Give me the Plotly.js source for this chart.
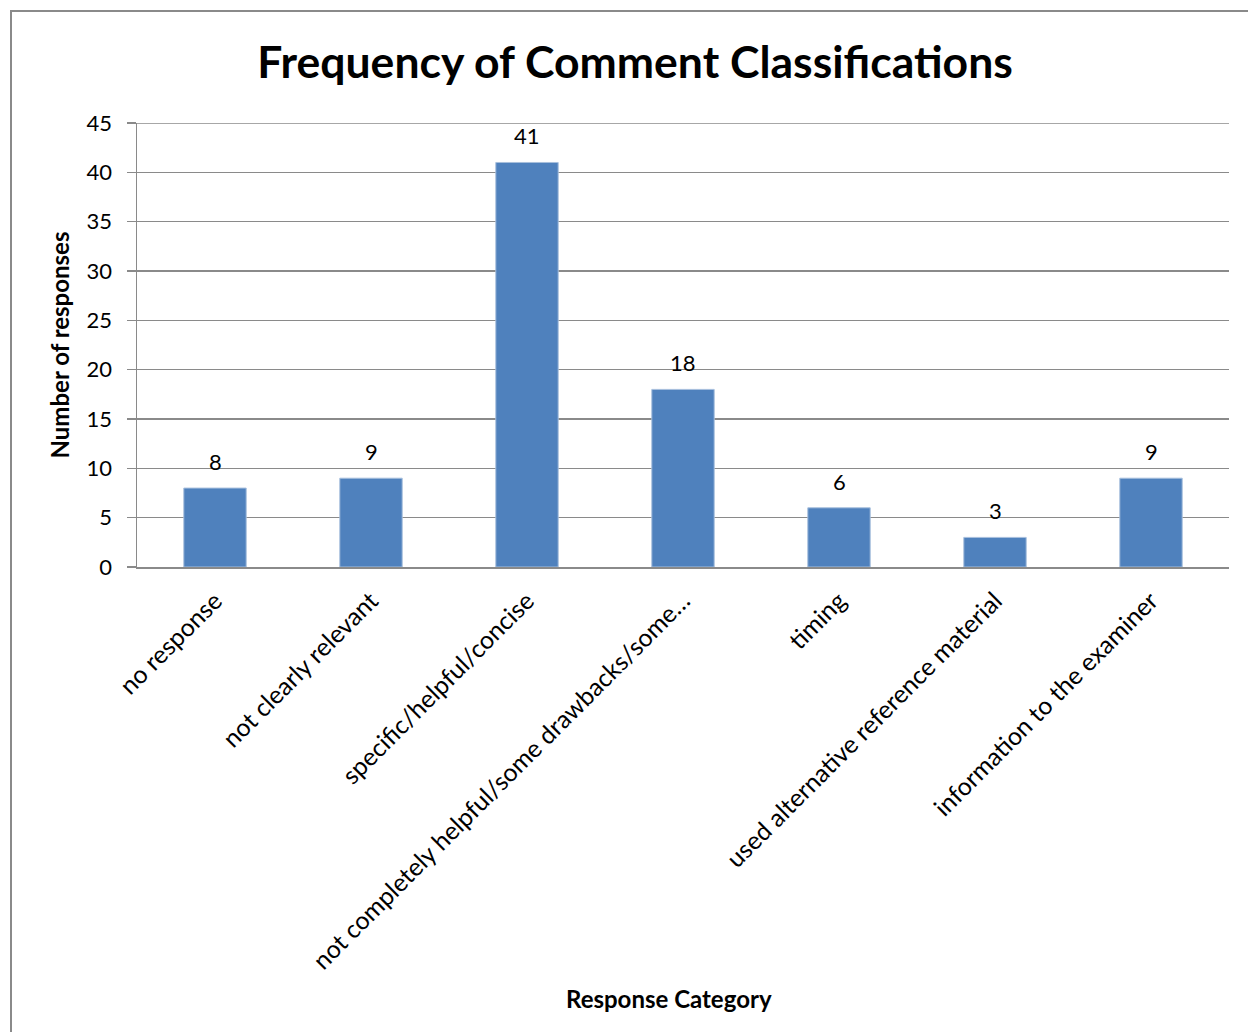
<!DOCTYPE html>
<html>
<head>
<meta charset="utf-8">
<script src="https://cdn.plot.ly/plotly-3.0.1.min.js"></script>
<style>
  html, body { margin: 0; padding: 0; background: #fff; overflow: hidden; }
  #wrap { position: relative; width: 1248px; height: 1032px; }
  #chart { position: absolute; left: 0; top: 0; width: 1248px; height: 1032px; }
  #frame { position: absolute; left: 10px; top: 10px; width: 1400px; height: 1200px;
           border-left: 2px solid #8a8a8a; border-top: 2px solid #8a8a8a; pointer-events: none; }
</style>
</head>
<body>
<div id="wrap">
  <div id="chart"></div>
  <div id="frame"></div>
</div>
<script>
const categories = [
  "no response",
  "not clearly relevant",
  "specific/helpful/concise",
  "not completely helpful/some drawbacks/some…",
  "timing",
  "used alternative reference material",
  "information to the examiner"
];
const responses = [8, 9, 41, 18, 6, 3, 9];
const yTicks = [0, 5, 10, 15, 20, 25, 30, 35, 40, 45];

const chartTitle = "Frequency of Comment Classifications";
const xTitle = "Response Category";
const yTitle = "Number of responses";

const FONT = "Lato, 'Open Sans', sans-serif";

const trace = {
  type: "bar",
  x: categories,
  y: responses,
  marker: { color: "#4F81BD", line: { color: "#a7bfdd", width: 1 } },
  hoverinfo: "none"
};

const valueLabels = categories.map((c, i) => ({
  x: c, y: responses[i], xref: "x", yref: "y",
  text: String(responses[i]), showarrow: false,
  yanchor: "bottom", yshift: 11,
  font: { family: FONT, size: 22, color: "#000" }
}));

const layout = {
  width: 1248, height: 1032,
  margin: { l: 137, r: 19, t: 123, b: 465 },
  paper_bgcolor: "#fff", plot_bgcolor: "#fff",
  showlegend: false,
  bargap: 0.6,
  font: { family: FONT, color: "#000" },
  title: {
    text: "<b>" + chartTitle + "</b>",
    font: { family: FONT, size: 44.5, color: "#000" },
    x: 635 / 1248, xanchor: "center",
    y: 1 - 62 / 1032, yanchor: "middle"
  },
  xaxis: {
    type: "category",
    tickangle: -45,
    tickfont: { family: FONT, size: 24.8, color: "#000" },
    ticklabelstandoff: 8,
    showline: true, linecolor: "#8a8a8a", linewidth: 1.5,
    ticks: "", showgrid: false, automargin: false
  },
  yaxis: {
    range: [0, 45],
    tickvals: yTicks,
    ticktext: yTicks.map(String),
    tickfont: { family: FONT, size: 22, color: "#000" },
    ticklabelstandoff: 10,
    showline: true, linecolor: "#8a8a8a", linewidth: 1.5,
    ticks: "outside", ticklen: 9, tickcolor: "#8a8a8a", tickwidth: 1.5,
    showgrid: true, gridcolor: "#8a8a8a", gridwidth: 1.5,
    zeroline: false, automargin: false,
    title: { text: "<b>" + yTitle + "</b>", font: { family: FONT, size: 24, color: "#000" }, standoff: 10 }
  },
  shapes: [{
    type: "line", xref: "paper", yref: "y",
    x0: 0, x1: 1, y0: yTicks[yTicks.length - 1], y1: yTicks[yTicks.length - 1],
    line: { color: "#8a8a8a", width: 1.5 }
  }],
  annotations: valueLabels.concat([{
    text: "<b>" + xTitle + "</b>",
    xref: "paper", yref: "paper",
    x: (669 - 137) / 1092, y: -(998 - 567) / 444,
    xanchor: "center", yanchor: "middle", showarrow: false,
    font: { family: FONT, size: 24, color: "#000" }
  }])
};

Plotly.newPlot("chart", [trace], layout, { displayModeBar: false, staticPlot: true });
</script>
</body>
</html>
